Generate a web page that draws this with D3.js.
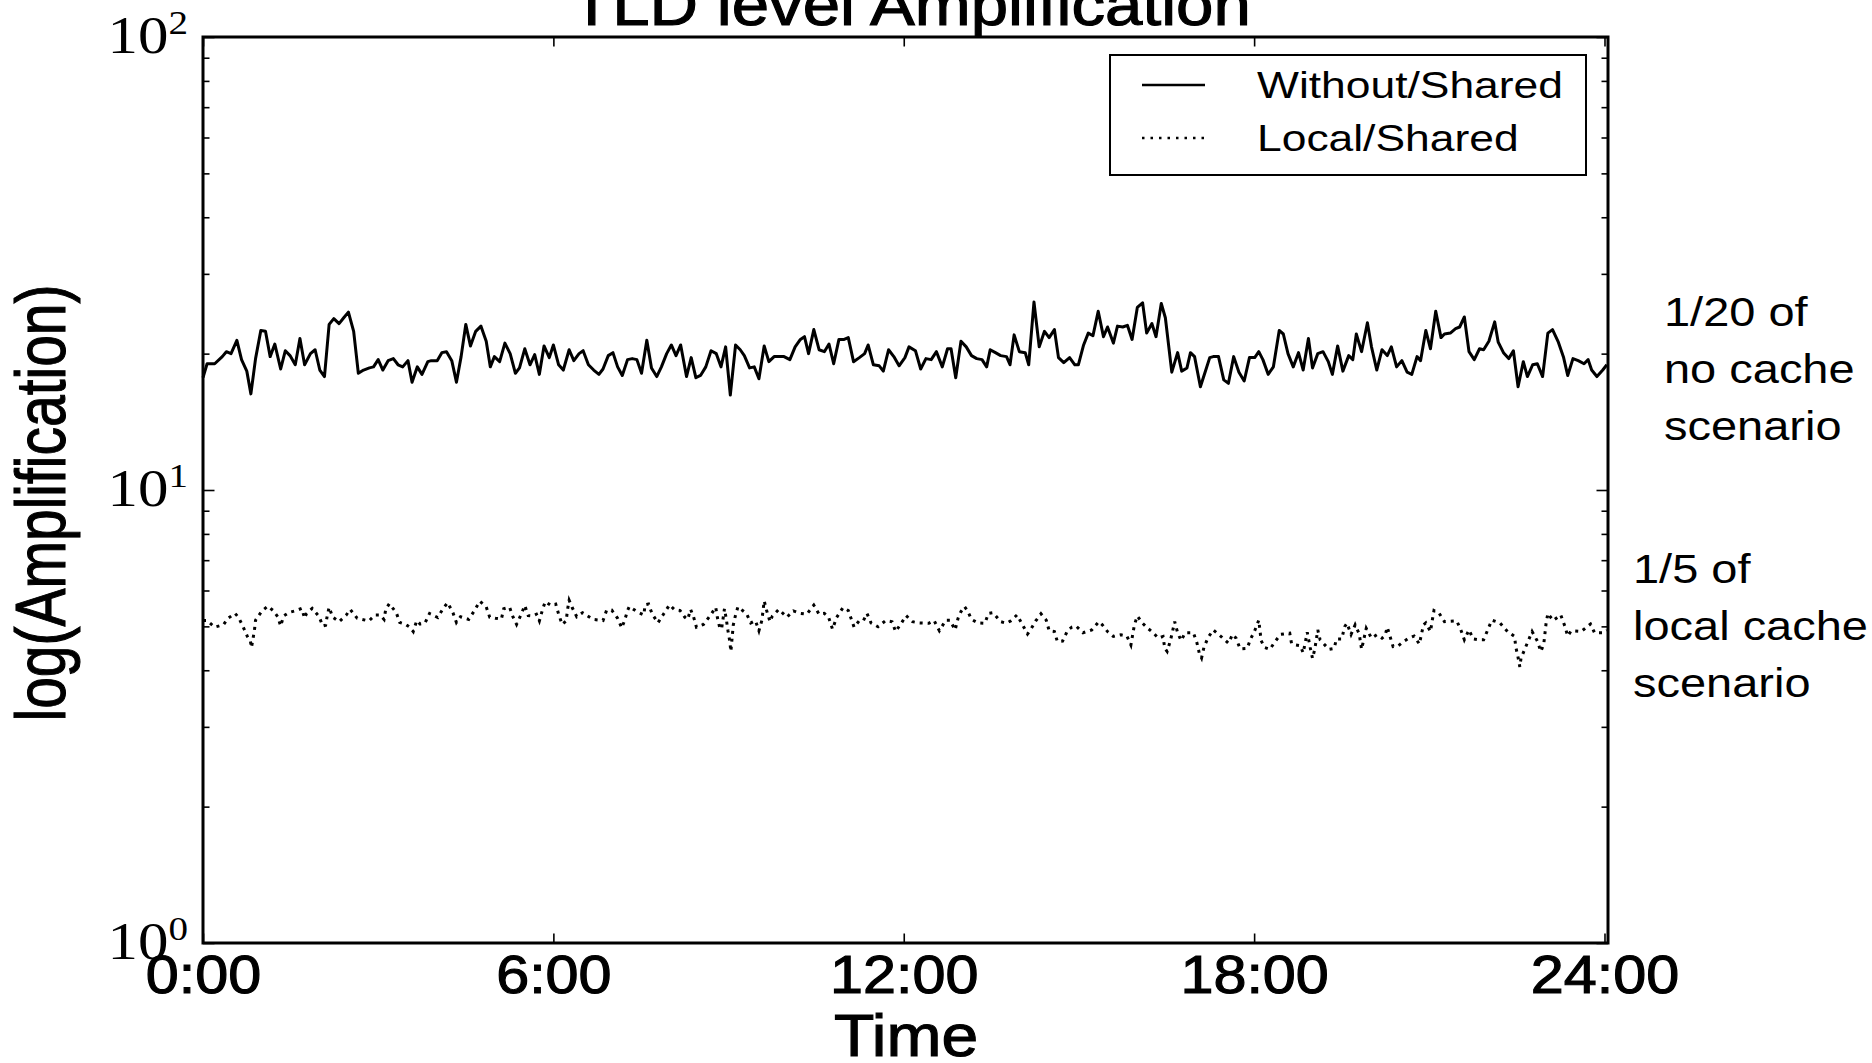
<!DOCTYPE html>
<html lang="en">
<head>
<meta charset="UTF-8"/>
<title>TLD level Amplification</title>
<script src="https://d3js.org/d3.v7.min.js"></script>
<style>
	body { margin: 0; background: #fff; overflow: hidden; }
	svg text { font-family: "Liberation Sans", Arial, Helvetica, sans-serif; fill: #000; }
	svg text.serif { font-family: "Liberation Serif", "DejaVu Serif", serif; }
	svg text.heavy { stroke: #000; stroke-width: 1.1px; }
</style>
</head>
<body>
<script>

// ---- data ----
var timeTicks  = [0, 6, 12, 18, 24];
var timeLabels = ["0:00", "6:00", "12:00", "18:00", "24:00"];
var decades    = [1, 10, 100];
var decadeExp  = ["0", "1", "2"];
var minorTicks = [2, 3, 4, 5, 6, 7, 8, 9, 20, 30, 40, 50, 60, 70, 80, 90];
var seriesNames = ["Without/Shared", "Local/Shared"];
var noteNoCache = ["1/20 of", "no cache", "scenario"];
var noteLocal   = ["1/5 of", "local cache", "scenario"];

// [hour of day, amplification]
var withoutShared = [
[0,17.7],[0.07,19.0],[0.20,19.0],[0.33,19.7],[0.40,20.2],[0.48,20.0],[0.58,21.4],[0.66,19.4],[0.75,18.3],[0.82,16.3],
[0.90,19.5],[0.99,22.5],[1.07,22.4],[1.15,19.7],[1.23,21.0],[1.33,18.5],[1.41,20.3],[1.49,19.8],[1.58,18.9],[1.66,21.6],
[1.74,18.9],[1.84,20.0],[1.92,20.4],[2.00,18.4],[2.08,17.8],[2.16,23.2],[2.24,23.9],[2.33,23.3],[2.41,24.0],[2.49,24.7],
[2.58,22.4],[2.66,18.1],[2.75,18.4],[2.85,18.6],[2.92,18.7],[3.00,19.4],[3.08,18.4],[3.17,19.3],[3.26,19.5],[3.34,18.9],
[3.42,18.7],[3.51,19.3],[3.58,17.3],[3.67,18.7],[3.75,18.0],[3.85,19.2],[3.91,19.3],[4.01,19.3],[4.09,20.1],[4.17,20.2],
[4.26,19.3],[4.34,17.3],[4.42,19.7],[4.50,23.2],[4.58,20.8],[4.67,22.4],[4.76,23.0],[4.85,21.3],[4.92,18.7],[4.99,19.7],
[5.08,19.2],[5.17,21.1],[5.26,20.0],[5.35,18.1],[5.42,18.6],[5.51,20.5],[5.60,18.9],[5.68,19.9],[5.76,18.0],[5.84,20.8],
[5.93,19.6],[6.00,20.9],[6.09,18.9],[6.17,18.4],[6.27,20.4],[6.35,19.3],[6.44,20.0],[6.51,20.3],[6.60,18.9],[6.69,18.4],
[6.78,18.0],[6.85,18.5],[6.94,19.8],[7.02,20.1],[7.10,18.7],[7.18,17.9],[7.27,19.4],[7.35,19.5],[7.43,19.4],[7.51,18.1],
[7.60,21.4],[7.68,18.6],[7.77,17.8],[7.85,18.7],[7.94,20.0],[8.02,20.9],[8.10,19.8],[8.18,20.9],[8.28,17.8],[8.36,19.6],
[8.44,17.7],[8.52,17.9],[8.61,18.7],[8.70,20.3],[8.79,20.0],[8.87,18.7],[8.95,20.7],[9.03,16.2],[9.12,20.9],[9.20,20.4],
[9.27,19.8],[9.36,18.6],[9.44,18.7],[9.52,17.6],[9.61,20.8],[9.69,19.2],[9.78,19.7],[9.86,19.7],[9.95,19.7],[10.05,19.4],
[10.14,20.7],[10.23,21.5],[10.30,21.8],[10.37,20.0],[10.46,22.6],[10.55,20.4],[10.64,20.2],[10.72,21.0],[10.80,19.0],[10.89,21.5],
[10.98,21.5],[11.05,21.7],[11.14,19.2],[11.24,19.6],[11.33,20.0],[11.39,20.9],[11.48,18.9],[11.58,18.8],[11.65,18.3],[11.74,20.4],
[11.83,19.7],[11.92,18.8],[12.02,19.6],[12.09,20.7],[12.20,20.3],[12.29,18.5],[12.38,19.5],[12.47,19.4],[12.56,20.2],[12.66,18.7],
[12.75,20.5],[12.81,20.5],[12.89,17.7],[12.98,21.3],[13.07,20.7],[13.16,19.8],[13.25,19.5],[13.34,19.4],[13.42,18.7],[13.48,20.4],
[13.57,20.1],[13.66,19.8],[13.76,19.7],[13.82,18.9],[13.89,22.0],[13.98,20.2],[14.08,20.1],[14.14,18.9],[14.23,26.0],[14.32,20.7],
[14.41,22.4],[14.49,21.7],[14.58,22.6],[14.65,19.6],[14.74,19.1],[14.84,19.6],[14.93,18.9],[14.99,18.9],[15.08,20.9],[15.16,22.2],
[15.24,21.9],[15.33,24.8],[15.42,21.8],[15.49,22.9],[15.59,21.1],[15.66,23.0],[15.75,22.9],[15.83,23.1],[15.91,21.5],[16.00,25.3],
[16.09,25.9],[16.16,22.2],[16.25,23.3],[16.32,21.8],[16.41,25.8],[16.48,24.0],[16.59,18.2],[16.69,20.1],[16.76,18.3],[16.85,18.6],
[16.91,20.1],[16.98,19.7],[17.08,16.9],[17.16,18.2],[17.24,19.6],[17.30,19.7],[17.39,19.7],[17.48,17.5],[17.56,17.2],[17.65,19.7],
[17.74,18.2],[17.83,17.4],[17.92,19.6],[18.01,19.6],[18.08,20.2],[18.15,19.4],[18.24,18.0],[18.33,18.7],[18.43,22.5],[18.50,22.1],
[18.58,20.0],[18.67,18.7],[18.76,20.1],[18.84,18.4],[18.93,21.6],[19.00,18.6],[19.09,20.0],[19.18,20.2],[19.27,19.2],[19.34,18.0],
[19.43,20.8],[19.52,18.3],[19.62,19.8],[19.69,19.4],[19.75,22.1],[19.84,20.2],[19.94,23.4],[20.01,20.7],[20.10,18.4],[20.19,20.4],
[20.28,19.8],[20.35,20.7],[20.44,18.7],[20.53,19.3],[20.62,18.2],[20.70,18.0],[20.79,19.7],[20.85,19.3],[20.94,22.5],[21.02,20.5],
[21.11,24.8],[21.20,21.7],[21.26,22.1],[21.36,22.2],[21.45,22.7],[21.52,22.9],[21.60,24.1],[21.68,20.2],[21.77,19.4],[21.86,20.5],
[21.93,20.4],[22.02,21.3],[22.12,23.5],[22.18,21.2],[22.27,20.1],[22.36,19.5],[22.44,20.3],[22.52,16.9],[22.61,19.2],[22.68,17.8],
[22.77,18.9],[22.85,19.0],[22.94,17.8],[23.03,22.2],[23.11,22.6],[23.21,21.2],[23.30,19.6],[23.37,17.9],[23.46,19.5],[23.55,19.3],
[23.65,19.0],[23.72,19.4],[23.78,18.4],[23.87,17.8],[23.97,18.4],[24.04,18.9]
];

var localShared = [
[0,5.15],[0.07,5.15],[0.20,4.98],[0.35,5.04],[0.43,5.21],[0.55,5.34],[0.61,5.23],[0.69,4.98],[0.76,4.75],[0.81,4.65],
[0.83,4.49],[0.88,4.89],[0.90,5.16],[1.01,5.41],[1.11,5.54],[1.20,5.42],[1.28,5.25],[1.33,5.01],[1.38,5.27],[1.48,5.37],
[1.60,5.42],[1.69,5.48],[1.74,5.21],[1.77,5.33],[1.87,5.48],[1.99,5.25],[2.05,5.01],[2.10,5.03],[2.13,5.30],[2.16,5.51],
[2.22,5.24],[2.33,5.12],[2.45,5.29],[2.52,5.45],[2.64,5.21],[2.84,5.14],[2.95,5.30],[3.03,5.30],[3.10,5.18],[3.13,5.46],
[3.19,5.61],[3.31,5.36],[3.37,5.10],[3.46,5.06],[3.54,4.98],[3.60,4.87],[3.66,5.15],[3.72,5.06],[3.80,5.08],[3.88,5.34],
[4.02,5.23],[4.11,5.47],[4.19,5.64],[4.28,5.36],[4.34,5.10],[4.41,5.25],[4.55,5.18],[4.65,5.42],[4.74,5.68],[4.85,5.52],
[4.91,5.24],[5.01,5.21],[5.11,5.19],[5.15,5.47],[5.25,5.51],[5.31,5.24],[5.37,5.05],[5.45,5.32],[5.51,5.56],[5.57,5.28],
[5.64,5.27],[5.71,5.32],[5.76,5.14],[5.81,5.42],[5.86,5.67],[5.96,5.56],[6.04,5.60],[6.09,5.32],[6.15,5.05],[6.22,5.14],
[6.24,5.42],[6.27,5.71],[6.32,5.51],[6.40,5.25],[6.50,5.36],[6.68,5.18],[6.85,5.15],[6.91,5.42],[7.00,5.43],[7.10,5.21],
[7.17,4.96],[7.22,5.15],[7.27,5.42],[7.30,5.53],[7.44,5.38],[7.55,5.30],[7.57,5.58],[7.63,5.60],[7.69,5.33],[7.79,5.09],
[7.89,5.33],[7.99,5.58],[8.07,5.45],[8.17,5.42],[8.25,5.24],[8.30,5.18],[8.35,5.45],[8.40,5.25],[8.45,4.98],[8.57,5.05],
[8.69,5.29],[8.78,5.51],[8.81,5.22],[8.85,4.96],[8.88,4.93],[8.93,5.47],[8.96,5.20],[8.99,4.89],[9.02,4.64],[9.04,4.40],
[9.08,5.03],[9.12,5.30],[9.16,5.52],[9.31,5.33],[9.38,5.09],[9.46,5.15],[9.52,4.89],[9.57,5.15],[9.61,5.69],[9.65,5.43],
[9.71,5.12],[9.75,5.27],[9.86,5.45],[10.00,5.24],[10.11,5.41],[10.23,5.34],[10.34,5.32],[10.46,5.57],[10.55,5.32],[10.64,5.34],
[10.71,5.25],[10.78,4.93],[10.85,5.23],[10.96,5.50],[11.05,5.42],[11.15,4.98],[11.24,5.15],[11.31,5.15],[11.37,5.34],[11.44,5.09],
[11.56,4.99],[11.69,5.15],[11.80,5.12],[11.86,4.87],[11.95,5.06],[12.04,5.28],[12.15,5.12],[12.26,5.09],[12.43,5.08],[12.52,5.15],
[12.61,4.89],[12.72,5.16],[12.79,5.16],[12.88,4.91],[12.93,5.21],[12.98,5.39],[13.04,5.53],[13.09,5.42],[13.16,5.18],[13.27,5.09],
[13.39,5.08],[13.45,5.34],[13.53,5.36],[13.66,5.12],[13.76,5.08],[13.83,5.14],[13.94,5.30],[14.03,5.05],[14.12,4.81],[14.17,4.91],
[14.26,5.14],[14.35,5.33],[14.44,5.16],[14.49,4.89],[14.58,4.87],[14.63,4.63],[14.72,4.64],[14.81,4.91],[14.88,4.98],[14.95,5.01],
[15.07,4.84],[15.22,4.91],[15.34,5.12],[15.40,5.04],[15.49,4.87],[15.59,4.75],[15.72,4.79],[15.82,4.76],[15.89,4.55],[15.95,5.04],
[16.00,5.27],[16.09,5.08],[16.18,4.95],[16.27,4.84],[16.36,4.71],[16.44,4.75],[16.47,4.47],[16.51,4.40],[16.57,4.67],[16.64,5.12],
[16.69,4.84],[16.75,4.65],[16.82,4.84],[16.96,4.84],[17.02,4.60],[17.06,4.37],[17.10,4.26],[17.14,4.49],[17.21,4.72],[17.30,4.91],
[17.45,4.73],[17.56,4.59],[17.63,4.80],[17.69,4.71],[17.76,4.46],[17.88,4.47],[17.94,4.69],[18.01,4.89],[18.08,5.16],[18.12,4.65],
[18.18,4.49],[18.27,4.45],[18.33,4.57],[18.45,4.80],[18.61,4.83],[18.64,4.59],[18.70,4.55],[18.79,4.53],[18.84,4.37],[18.91,4.85],
[18.96,4.49],[19.00,4.25],[19.04,4.46],[19.09,4.91],[19.13,4.67],[19.28,4.45],[19.37,4.47],[19.41,4.69],[19.50,4.69],[19.55,4.99],
[19.59,5.08],[19.66,4.80],[19.73,5.04],[19.80,4.81],[19.84,4.45],[19.92,4.95],[20.01,4.71],[20.10,4.79],[20.19,4.71],[20.24,4.76],
[20.28,4.98],[20.38,4.51],[20.47,4.53],[20.56,4.63],[20.65,4.71],[20.74,4.76],[20.83,4.57],[20.90,5.04],[20.94,5.09],[21.02,4.87],
[21.05,5.15],[21.08,5.42],[21.17,5.34],[21.26,5.12],[21.47,5.14],[21.54,4.91],[21.60,4.67],[21.68,4.91],[21.75,4.69],[21.84,4.67],
[21.93,4.67],[22.00,4.91],[22.07,5.16],[22.21,5.09],[22.34,4.87],[22.46,4.75],[22.48,4.51],[22.52,4.27],[22.55,4.07],[22.57,4.25],
[22.64,4.47],[22.76,4.87],[22.85,4.64],[22.91,4.40],[22.96,4.57],[23.00,5.08],[23.03,5.34],[23.12,5.15],[23.21,5.25],[23.25,5.30],
[23.32,5.01],[23.37,4.76],[23.43,4.89],[23.60,4.87],[23.76,5.06],[23.83,4.84],[23.97,4.84],[24.04,4.90]
];

// ---- layout ----
var w = 1872, h = 1063;
var plotL = 203, plotR = 1608, plotT = 37, plotB = 943;
var dotted = "3,5";

var svg = d3.select("body").append("svg")
	.attr("width", w)
	.attr("height", h);

svg.append("rect").attr("width", w).attr("height", h).attr("fill", "#fff");

var xScale = d3.scaleLinear().domain([0, 24.06]).range([plotL, plotR]);
var yScale = d3.scaleLog().domain([1, 100]).range([plotB, plotT]);

var line = d3.line()
	.x(function(d){ return xScale(d[0]); })
	.y(function(d){ return yScale(d[1]); });

// series
svg.append("path")
	.datum(withoutShared)
	.attr("d", line)
	.attr("fill", "none")
	.attr("stroke", "#000")
	.attr("stroke-width", 3)
	.attr("stroke-linejoin", "round");

svg.append("path")
	.datum(localShared)
	.attr("d", line)
	.attr("fill", "none")
	.attr("stroke", "#000")
	.attr("stroke-width", 3)
	.attr("stroke-dasharray", dotted);

// axes: ticks point inward on all four sides
function styleAxis(g) {
	g.select(".domain").remove();
	g.selectAll(".tick line").attr("stroke", "#000").attr("stroke-width", 1.6);
}

var xBottom = svg.append("g")
	.attr("transform", "translate(0," + plotB + ")")
	.call(d3.axisBottom(xScale).tickValues(timeTicks).tickSizeInner(-9.5).tickSizeOuter(0)
		.tickFormat(function(d, i){ return timeLabels[i]; }))
	.call(styleAxis);

xBottom.selectAll(".tick text")
	.attr("class", "heavy")
	.attr("y", 50)
	.attr("dy", null)
	.attr("font-size", 53)
	.attr("transform", "scale(1.12,1)");

svg.append("g")
	.attr("transform", "translate(0," + plotT + ")")
	.call(d3.axisTop(xScale).tickValues(timeTicks).tickSizeInner(-9.5).tickSizeOuter(0).tickFormat(""))
	.call(styleAxis);

var yLeft = svg.append("g")
	.attr("transform", "translate(" + plotL + ",0)")
	.call(d3.axisLeft(yScale).tickValues(decades).tickSizeInner(-11.5).tickSizeOuter(0).tickFormat(""))
	.call(styleAxis);

svg.append("g")
	.attr("transform", "translate(" + plotL + ",0)")
	.call(d3.axisLeft(yScale).tickValues(minorTicks).tickSizeInner(-6.5).tickSizeOuter(0).tickFormat(""))
	.call(styleAxis);

svg.append("g")
	.attr("transform", "translate(" + plotR + ",0)")
	.call(d3.axisRight(yScale).tickValues(decades).tickSizeInner(-11.5).tickSizeOuter(0).tickFormat(""))
	.call(styleAxis);

svg.append("g")
	.attr("transform", "translate(" + plotR + ",0)")
	.call(d3.axisRight(yScale).tickValues(minorTicks).tickSizeInner(-6.5).tickSizeOuter(0).tickFormat(""))
	.call(styleAxis);

// 10^n labels
yLeft.selectAll(".tick text").remove();
yLeft.selectAll(".tick").each(function(d, i){
	var t = d3.select(this).append("text")
		.attr("class", "serif")
		.attr("text-anchor", "end")
		.attr("transform", "translate(-15,0) scale(1.15,1)")
		.attr("y", 15);
	t.append("tspan").attr("font-size", 53).text("10");
	t.append("tspan").attr("font-size", 34).attr("dy", -19).text(decadeExp[i]);
});

// frame
svg.append("rect")
	.attr("x", plotL).attr("y", plotT)
	.attr("width", plotR - plotL).attr("height", plotB - plotT)
	.attr("fill", "none")
	.attr("stroke", "#000")
	.attr("stroke-width", 3);

// title and axis labels
svg.append("text")
	.attr("class", "heavy")
	.attr("transform", "translate(911,25) scale(1.12,1)")
	.attr("text-anchor", "middle")
	.attr("font-size", 60)
	.text("TLD level Amplification");

svg.append("text")
	.attr("class", "heavy")
	.attr("transform", "translate(906,1056) scale(1.1,1)")
	.attr("text-anchor", "middle")
	.attr("font-size", 60)
	.text("Time");

svg.append("text")
	.attr("class", "heavy")
	.attr("transform", "translate(65,503) rotate(-90)")
	.attr("text-anchor", "middle")
	.attr("font-size", 71)
	.attr("textLength", 437)
	.attr("lengthAdjust", "spacingAndGlyphs")
	.text("log(Amplification)");

// legend
var legend = svg.append("g");
legend.append("rect")
	.attr("x", 1110).attr("y", 55)
	.attr("width", 476).attr("height", 120)
	.attr("fill", "#fff")
	.attr("stroke", "#000")
	.attr("stroke-width", 2);

var rows = legend.selectAll("g.row")
	.data(seriesNames)
	.enter()
	.append("g")
	.attr("class", "row")
	.attr("transform", function(d, i){ return "translate(0," + (85 + i * 53) + ")"; });

rows.append("line")
	.attr("x1", 1142).attr("x2", 1205)
	.attr("y1", 0).attr("y2", 0)
	.attr("stroke", "#000")
	.attr("stroke-width", function(d, i){ return i === 1 ? 2.5 : 2.5; })
	.attr("stroke-dasharray", function(d, i){ return i === 1 ? "2.5,6" : null; });

rows.append("text")
	.attr("transform", "translate(1257,13) scale(1.2,1)")
	.attr("font-size", 37)
	.text(function(d){ return d; });

// notes on the right
function note(lines, x, y) {
	var g = svg.append("g").attr("transform", "translate(" + x + "," + y + ") scale(1.16,1)");
	g.selectAll("text")
		.data(lines)
		.enter()
		.append("text")
		.attr("y", function(d, i){ return i * 57; })
		.attr("font-size", 40.5)
		.text(function(d){ return d; });
}
note(noteNoCache, 1664, 326);
note(noteLocal, 1633, 583);

</script>
</body>
</html>
